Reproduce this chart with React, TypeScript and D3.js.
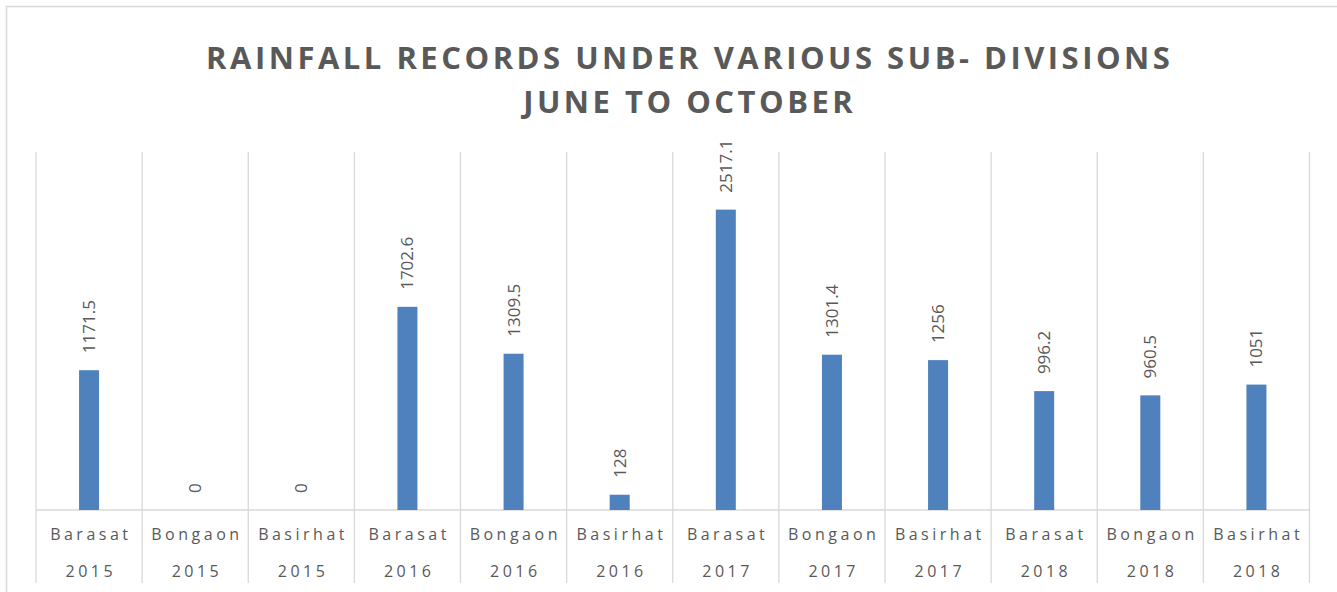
import React from "react";
import * as d3 from "d3";

const places = ["Barasat", "Bongaon", "Basirhat", "Barasat", "Bongaon", "Basirhat", "Barasat", "Bongaon", "Basirhat", "Barasat", "Bongaon", "Basirhat"];
const years = ["2015", "2015", "2015", "2016", "2016", "2016", "2017", "2017", "2017", "2018", "2018", "2018"];
const rainfall = [1171.5, 0, 0, 1702.6, 1309.5, 128, 2517.1, 1301.4, 1256, 996.2, 960.5, 1051];
const labels = ["1171.5", "0", "0", "1702.6", "1309.5", "128", "2517.1", "1301.4", "1256", "996.2", "960.5", "1051"];
const titleLines = ["RAINFALL RECORDS UNDER VARIOUS SUB- DIVISIONS", "JUNE TO OCTOBER"];

const W = 1337, H = 592;
const left = 36, right = 1309.5, top = 152, base = 510, bottom = 583;
const textColor = "#595959";
const grid = "#d9d9d9";
const font = "'Open Sans', sans-serif";

export default function App() {
  const x = d3.scaleBand<number>().domain(d3.range(rainfall.length)).range([left, right]).padding(0);
  const y = d3.scaleLinear().domain([0, 3000]).range([base, top]);
  const barW = 20;
  const edges = d3.range(rainfall.length + 1).map((i) => (i < rainfall.length ? (x(i) as number) : right));
  return (
    <svg width={W} height={H} style={{ position: "absolute", left: 0, top: 0, background: "#fff" }}>
      <rect x={6.5} y={6.5} width={1400} height={700} fill="#fff" stroke={grid} strokeWidth={1.5} />
      {titleLines.map((t, i) => (
        <text key={i} x={688} y={69 + i * 44} textAnchor="middle" fill={textColor} fontFamily={font} fontWeight={700} fontSize={31} letterSpacing={3.5} dx={1.75}>
          {t}
        </text>
      ))}
      {edges.map((ex, i) => (
        <line key={"g" + i} x1={ex} x2={ex} y1={top} y2={bottom} stroke={grid} strokeWidth={1.3} />
      ))}
      <line x1={left} x2={right} y1={base} y2={base} stroke={grid} strokeWidth={1.3} />
      {rainfall.map((v, i) => {
        const cx = (x(i) as number) + x.bandwidth() / 2;
        return (
          <g key={"b" + i}>
            <rect x={cx - barW / 2} y={y(v)} width={barW} height={base - y(v)} fill="#4F81BD" />
            <text transform={`translate(${cx},${y(v) - 17}) rotate(-90)`} dy="0.35em" fill={textColor} fontFamily={font} fontSize={17} textAnchor="start">
              {labels[i]}
            </text>
            <text x={cx} dx={1.75} y={540} textAnchor="middle" fill={textColor} fontFamily={font} fontSize={16} letterSpacing={3.5}>
              {places[i]}
            </text>
            <text x={cx} dx={1.75} y={577} textAnchor="middle" fill={textColor} fontFamily={font} fontSize={16} letterSpacing={3.5}>
              {years[i]}
            </text>
          </g>
        );
      })}
    </svg>
  );
}
